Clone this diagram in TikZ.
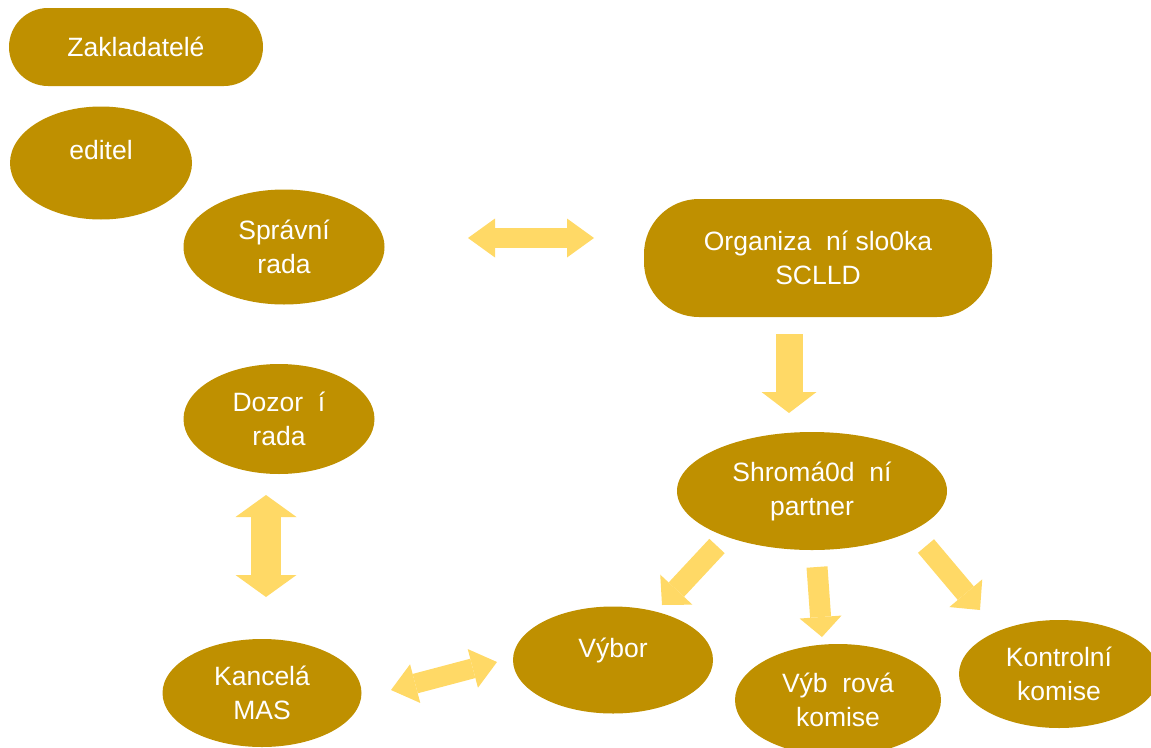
\documentclass[tikz,border=0pt]{standalone}
\usepackage{fontspec}
\setmainfont{Liberation Sans}
\usetikzlibrary{shapes.geometric,arrows.meta}
\definecolor{gold}{RGB}{191,144,0}
\definecolor{lightgold}{RGB}{255,217,102}
\tikzset{
  unit/.style={fill=gold,text=white,align=center,inner sep=0pt,
    font=\fontsize{26.5}{34}\selectfont},
  oval/.style={unit,ellipse},
  pill/.style={unit,rectangle,rounded corners=#1},
  link/.style={draw=lightgold,line width=#1},
}
\begin{document}
\begin{tikzpicture}[x=1pt,y=-1pt]
\useasboundingbox (0,0) rectangle (1151,747);
\clip (0,0) rectangle (1151,747);
% left column
\node[pill=39,minimum width=254,minimum height=78] (zakladatele) at (136,47) {Zakladatelé};
\node[oval,minimum width=182,minimum height=113] (reditel) at (101,163) {editel\\[-8pt]\mbox{}};
\node[oval,minimum width=201,minimum height=115] (sprava) at (284,247) {Správní\\rada};
\node[oval,minimum width=191,minimum height=110] (dozor) at (279,419) {Dozor~~í\\rada};
\node[oval,minimum width=199,minimum height=108] (kancelar) at (262,693) {Kancelá\\MAS};
% right part
\node[pill=55,minimum width=348,minimum height=118] (slozka) at (818,258) {Organiza~~ní slo0ka\\SCLLD};
\node[oval,minimum width=270,minimum height=118] (shromazdeni) at (812,491) {Shromá0d~~ní\\partner};
\node[oval,minimum width=200,minimum height=107] (vybor) at (613,660) {Výbor\\[-10pt]\mbox{}};
\node[oval,minimum width=206,minimum height=112] (vyberova) at (838,700) {Výb~~rová\\komise};
\node[oval,minimum width=200,minimum height=108] (kontrolni) at (1059,674) {Kontrolní\\komise};
% arrows
\coordinate (a1) at (468,238); \coordinate (b1) at (594,238);
\coordinate (a2) at (789,334); \coordinate (b2) at (789,413);
\coordinate (a3) at (266,495); \coordinate (b3) at (266,597);
\coordinate (a4) at (391,690); \coordinate (b4) at (497,662);
\coordinate (a5) at (717,546); \coordinate (b5) at (662,605);
\coordinate (a6) at (817,567); \coordinate (b6) at (822,637);
\coordinate (a7) at (926,546); \coordinate (b7) at (980,610);
\draw[link=20,{Triangle[length=27,width=39,line width=0pt]}-{Triangle[length=27,width=39,line width=0pt]}] (a1) -- (b1);
\draw[link=27,-{Triangle[length=21,width=55,line width=0pt]}] (a2) -- (b2);
\draw[link=30,{Triangle[length=22,width=61,line width=0pt]}-{Triangle[length=22,width=61,line width=0pt]}] (a3) -- (b3);
\draw[link=20,{Triangle[length=25,width=40,line width=0pt]}-{Triangle[length=25,width=40,line width=0pt]}] (a4) -- (b4);
\draw[link=21,-{Triangle[length=21,width=44,line width=0pt]}] (a5) -- (b5);
\draw[link=21,-{Triangle[length=20,width=42,line width=0pt]}] (a6) -- (b6);
\draw[link=21,-{Triangle[length=22,width=43,line width=0pt]}] (a7) -- (b7);
\end{tikzpicture}
\end{document}
